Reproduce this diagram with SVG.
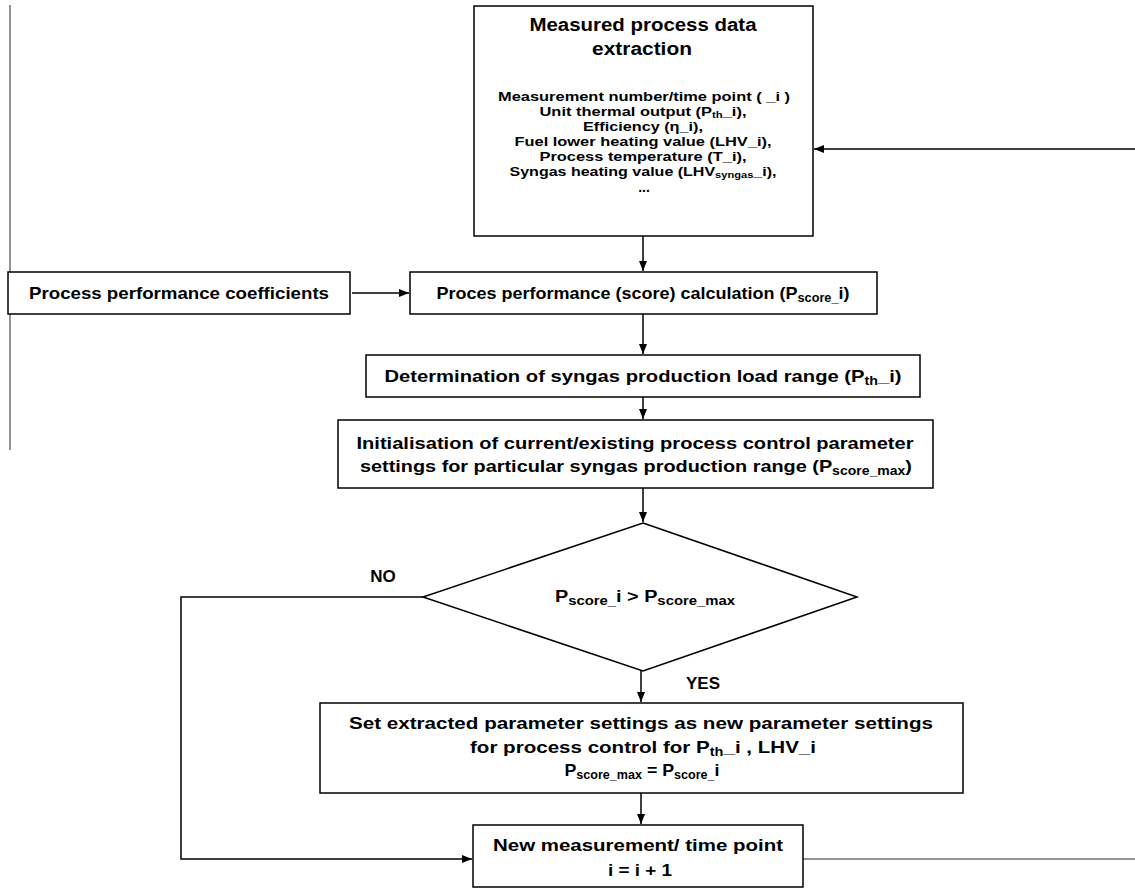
<svg xmlns="http://www.w3.org/2000/svg" width="1135" height="890" viewBox="0 0 1135 890">
<style>
.box{fill:#fff;stroke:#000;stroke-width:1.5}
.t{font-family:"Liberation Sans",Arial,sans-serif;font-weight:bold;fill:#000;text-anchor:middle}
.ln{fill:none;stroke:#000;stroke-width:1.5}
.gr{fill:none;stroke:#707070;stroke-width:1.5}
</style>
<defs>
<marker id="ah" markerWidth="10" markerHeight="8" refX="10" refY="4" orient="auto" markerUnits="userSpaceOnUse">
<path d="M0,0 L10,4 L0,8 Z" fill="#000"/>
</marker>
</defs>
<rect width="1135" height="890" fill="#fff"/>
<g id="connectors">
<line class="gr" x1="10" y1="5" x2="10" y2="450"/>
<line class="ln" x1="1135" y1="149" x2="814" y2="149" marker-end="url(#ah)"/>
<line class="ln" x1="643" y1="236" x2="643" y2="271" marker-end="url(#ah)"/>
<line class="ln" x1="352" y1="293" x2="409" y2="293" marker-end="url(#ah)"/>
<line class="ln" x1="643" y1="314" x2="643" y2="354" marker-end="url(#ah)"/>
<line class="ln" x1="643" y1="397" x2="643" y2="419" marker-end="url(#ah)"/>
<line class="ln" x1="643" y1="488" x2="643" y2="522" marker-end="url(#ah)"/>
<line class="ln" x1="641" y1="671" x2="641" y2="702" marker-end="url(#ah)"/>
<line class="ln" x1="641" y1="793" x2="641" y2="824" marker-end="url(#ah)"/>
<polyline class="ln" points="423,597 181,597 181,859 472,859" marker-end="url(#ah)"/>
<line class="gr" x1="803" y1="859" x2="1135" y2="859"/>
</g>
<g id="extraction">
<rect class="box" x="474" y="6" width="339" height="230"/>
<text class="t" x="643" y="31" font-size="18" textLength="227" lengthAdjust="spacingAndGlyphs">Measured process data</text>
<text class="t" x="642" y="55" font-size="18" textLength="100" lengthAdjust="spacingAndGlyphs">extraction</text>
<text class="t" x="644" y="101" font-size="13" textLength="292" lengthAdjust="spacingAndGlyphs">Measurement number/time point ( _i )</text>
<text class="t" x="643" y="116" font-size="13" textLength="207" lengthAdjust="spacingAndGlyphs">Unit thermal output (P<tspan font-size="9" dy="2">th</tspan><tspan dy="-2">_i),</tspan></text>
<text class="t" x="643" y="131" font-size="13" textLength="120" lengthAdjust="spacingAndGlyphs">Efficiency (η_i),</text>
<text class="t" x="643" y="146" font-size="13" textLength="257" lengthAdjust="spacingAndGlyphs">Fuel lower heating value (LHV_i),</text>
<text class="t" x="643" y="161" font-size="13" textLength="207" lengthAdjust="spacingAndGlyphs">Process temperature (T_i),</text>
<text class="t" x="643" y="176" font-size="13" textLength="267" lengthAdjust="spacingAndGlyphs">Syngas heating value (LHV<tspan font-size="9" dy="2">syngas</tspan><tspan dy="-2">_i),</tspan></text>
<text class="t" x="644" y="192" font-size="14">...</text>
</g>
<g id="coefficients">
<rect class="box" x="8" y="272" width="342" height="42"/>
<text class="t" x="179" y="299" font-size="17" textLength="300" lengthAdjust="spacingAndGlyphs">Process performance coefficients</text>
</g>
<g id="score">
<rect class="box" x="410" y="272" width="467" height="42"/>
<text class="t" x="643" y="299" font-size="17" textLength="413" lengthAdjust="spacingAndGlyphs">Proces performance (score) calculation (P<tspan font-size="12" dy="3">score_</tspan><tspan dy="-3">i)</tspan></text>
</g>
<g id="loadrange">
<rect class="box" x="366" y="355" width="554" height="42"/>
<text class="t" x="643" y="382" font-size="17" textLength="517" lengthAdjust="spacingAndGlyphs">Determination of syngas production load range (P<tspan font-size="12" dy="3">th</tspan><tspan dy="-3">_i)</tspan></text>
</g>
<g id="init">
<rect class="box" x="338" y="420" width="595" height="68"/>
<text class="t" x="635" y="449" font-size="17" textLength="557" lengthAdjust="spacingAndGlyphs">Initialisation of current/existing process control parameter</text>
<text class="t" x="636" y="472" font-size="17" textLength="552" lengthAdjust="spacingAndGlyphs">settings for particular syngas production range (P<tspan font-size="12" dy="3">score_max</tspan><tspan dy="-3">)</tspan></text>
</g>
<g id="decision">
<polygon class="box" points="643,523 857,597 643,671 423,597"/>
<text class="t" x="645" y="602" font-size="16" textLength="180" lengthAdjust="spacingAndGlyphs">P<tspan font-size="12" dy="3">score_</tspan><tspan dy="-3">i &gt; P</tspan><tspan font-size="12" dy="3">score_max</tspan></text>
<text class="t" x="383" y="582" font-size="17">NO</text>
<text class="t" x="703" y="689" font-size="17">YES</text>
</g>
<g id="setparams">
<rect class="box" x="320" y="703" width="643" height="90"/>
<text class="t" x="641" y="729" font-size="17" textLength="584" lengthAdjust="spacingAndGlyphs">Set extracted parameter settings as new parameter settings</text>
<text class="t" x="643" y="753" font-size="17" textLength="346" lengthAdjust="spacingAndGlyphs">for process control for P<tspan font-size="12" dy="3">th</tspan><tspan dy="-3">_i , LHV_i</tspan></text>
<text class="t" x="642" y="776" font-size="17" textLength="155" lengthAdjust="spacingAndGlyphs">P<tspan font-size="12" dy="3">score_max</tspan><tspan dy="-3"> = P</tspan><tspan font-size="12" dy="3">score_</tspan><tspan dy="-3">i</tspan></text>
</g>
<g id="newpoint">
<rect class="box" x="473" y="825" width="330" height="62"/>
<text class="t" x="638" y="851" font-size="17" textLength="290" lengthAdjust="spacingAndGlyphs">New measurement/ time point</text>
<text class="t" x="640" y="876" font-size="17" textLength="64" lengthAdjust="spacingAndGlyphs">i = i + 1</text>
</g>
</svg>
